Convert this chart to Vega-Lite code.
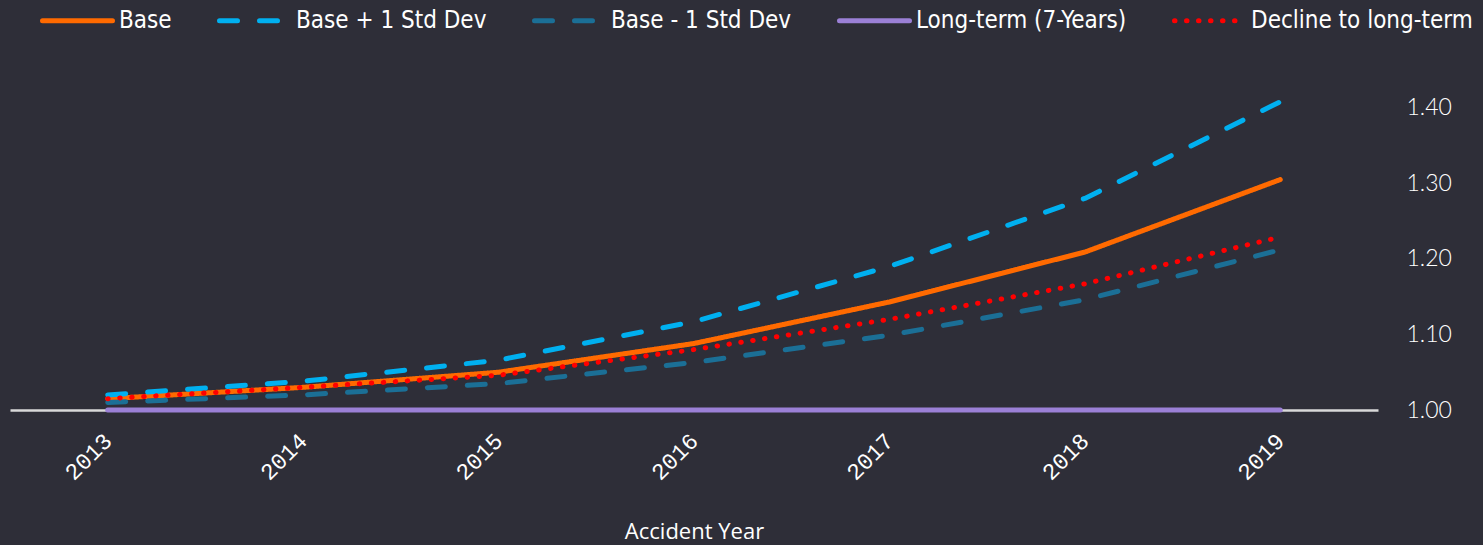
{
  "$schema": "https://vega.github.io/schema/vega-lite/v6.json",
  "width": 1368,
  "height": 340,
  "autosize": {"type": "none"},
  "padding": {"left": 10, "top": 70, "right": 105, "bottom": 135},
  "background": "#2e2e38",
  "config": {
    "view": {"stroke": null},
    "axis": {"grid": false, "ticks": false}
  },
  "data": {
    "values": [
      {"year": "2013", "series": "Base", "value": 1.015},
      {"year": "2014", "series": "Base", "value": 1.03},
      {"year": "2015", "series": "Base", "value": 1.05},
      {"year": "2016", "series": "Base", "value": 1.088},
      {"year": "2017", "series": "Base", "value": 1.143},
      {"year": "2018", "series": "Base", "value": 1.209},
      {"year": "2019", "series": "Base", "value": 1.305},
      {"year": "2013", "series": "Base + 1 Std Dev", "value": 1.02},
      {"year": "2014", "series": "Base + 1 Std Dev", "value": 1.038},
      {"year": "2015", "series": "Base + 1 Std Dev", "value": 1.066},
      {"year": "2016", "series": "Base + 1 Std Dev", "value": 1.117},
      {"year": "2017", "series": "Base + 1 Std Dev", "value": 1.19},
      {"year": "2018", "series": "Base + 1 Std Dev", "value": 1.28},
      {"year": "2019", "series": "Base + 1 Std Dev", "value": 1.408},
      {"year": "2013", "series": "Base - 1 Std Dev", "value": 1.01},
      {"year": "2014", "series": "Base - 1 Std Dev", "value": 1.02},
      {"year": "2015", "series": "Base - 1 Std Dev", "value": 1.035},
      {"year": "2016", "series": "Base - 1 Std Dev", "value": 1.063},
      {"year": "2017", "series": "Base - 1 Std Dev", "value": 1.099},
      {"year": "2018", "series": "Base - 1 Std Dev", "value": 1.146},
      {"year": "2019", "series": "Base - 1 Std Dev", "value": 1.212},
      {"year": "2013", "series": "Long-term (7-Years)", "value": 1.0},
      {"year": "2014", "series": "Long-term (7-Years)", "value": 1.0},
      {"year": "2015", "series": "Long-term (7-Years)", "value": 1.0},
      {"year": "2016", "series": "Long-term (7-Years)", "value": 1.0},
      {"year": "2017", "series": "Long-term (7-Years)", "value": 1.0},
      {"year": "2018", "series": "Long-term (7-Years)", "value": 1.0},
      {"year": "2019", "series": "Long-term (7-Years)", "value": 1.0},
      {"year": "2013", "series": "Decline to long-term", "value": 1.015},
      {"year": "2014", "series": "Decline to long-term", "value": 1.03},
      {"year": "2015", "series": "Decline to long-term", "value": 1.046},
      {"year": "2016", "series": "Decline to long-term", "value": 1.08},
      {"year": "2017", "series": "Decline to long-term", "value": 1.12},
      {"year": "2018", "series": "Decline to long-term", "value": 1.167},
      {"year": "2019", "series": "Decline to long-term", "value": 1.229}
    ]
  },
  "transform": [
    {"calculate": "indexof(['Long-term (7-Years)','Base - 1 Std Dev','Base + 1 Std Dev','Base','Decline to long-term'], datum.series)", "as": "z"}
  ],
  "mark": {"type": "line", "strokeCap": "round", "strokeJoin": "round"},
  "encoding": {
    "x": {
      "field": "year", "type": "ordinal",
      "scale": {"type": "point", "padding": 0.5},
      "axis": {
        "title": "Accident Year",
        "titleColor": "#ffffff", "titleFont": "Open Sans", "titleFontSize": 22, "titleFontWeight": "normal",
        "titlePadding": 37,
        "labelAngle": -45, "labelAlign": "right", "labelBaseline": "middle",
        "labelColor": "#ffffff", "labelFont": "Liberation Mono", "labelFontSize": 23, "labelPadding": 27,
        "domainColor": "#d9d9d9", "domainWidth": 2.5
      }
    },
    "y": {
      "field": "value", "type": "quantitative",
      "scale": {"domain": [1.0, 1.45], "nice": false, "zero": false},
      "axis": {
        "orient": "right", "title": null, "domain": false,
        "values": [1.0, 1.1, 1.2, 1.3, 1.4], "format": ".2f",
        "labelColor": "#ffffff", "labelFont": "Lato", "labelFontWeight": 300, "labelFontSize": 23, "labelPadding": 28
      }
    },
    "color": {
      "field": "series", "type": "nominal",
      "scale": {
        "domain": ["Base", "Base + 1 Std Dev", "Base - 1 Std Dev", "Long-term (7-Years)", "Decline to long-term"],
        "range": ["#ff6a00", "#00b0f0", "#1b6f96", "#9b80d6", "#ff0000"]
      },
      "legend": {
        "title": null, "orient": "none", "legendX": 30, "legendY": -87, "direction": "horizontal",
        "symbolType": "stroke", "symbolSize": 4900, "labelColor": "#ffffff",
        "labelFont": "DejaVu Sans Condensed", "labelFontSize": 24, "labelOffset": 4, "labelLimit": 0,
        "columnPadding": 37,
        "encode": {"symbols": {"update": {"strokeCap": {"value": "round"}}}}
      }
    },
    "strokeDash": {
      "field": "series", "type": "nominal",
      "scale": {
        "domain": ["Base", "Base + 1 Std Dev", "Base - 1 Std Dev", "Long-term (7-Years)", "Decline to long-term"],
        "range": [[1, 0], [18, 22], [18, 22], [1, 0], [0.5, 11.5]]
      }
    },
    "strokeWidth": {
      "field": "series", "type": "nominal",
      "scale": {
        "domain": ["Base", "Base + 1 Std Dev", "Base - 1 Std Dev", "Long-term (7-Years)", "Decline to long-term"],
        "range": [5, 5, 4.5, 4.5, 5]
      }
    },
    "order": {"field": "year"},
    "zindex": {"field": "z"}
  }
}
